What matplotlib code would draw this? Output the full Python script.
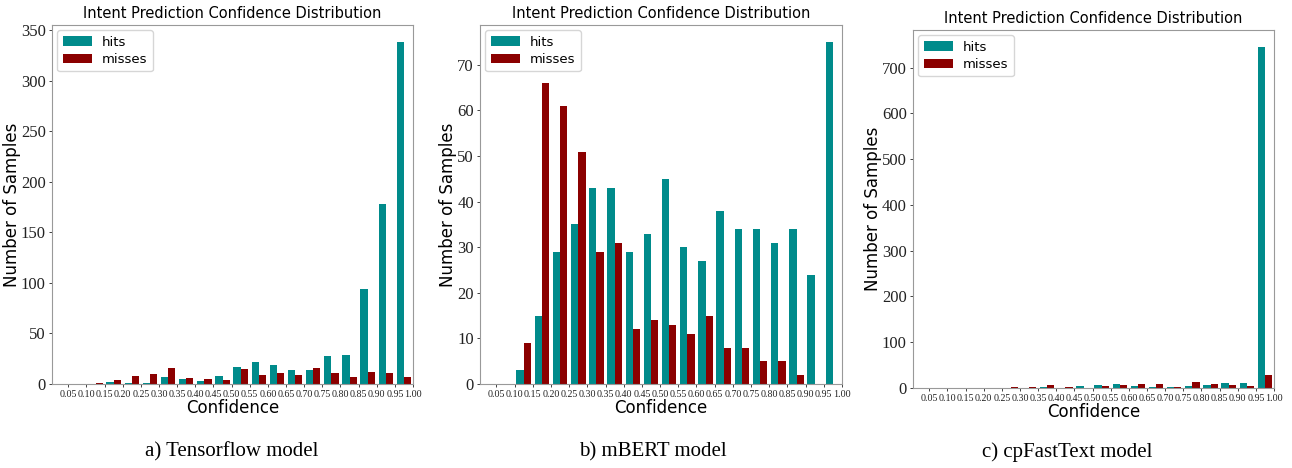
import numpy as np
import matplotlib
matplotlib.use('Agg')
import matplotlib.pyplot as plt

# bin edges of the confidence histogram (0.00 .. 1.00, step 0.05)
edges = np.linspace(0.0, 1.0, 21)
tick_labels = ['%.2f' % v for v in edges[1:]]

# counts per bin
tf_hits = [0, 0, 0, 2, 1, 1, 7, 5, 3, 8, 17, 22, 19, 14, 14, 28, 29, 94, 178, 338]
tf_misses = [0, 0, 1, 4, 8, 10, 16, 6, 5, 4, 15, 9, 11, 9, 16, 11, 7, 12, 11, 7]

bert_hits = [0, 0, 3, 15, 29, 35, 43, 43, 29, 33, 45, 30, 27, 38, 34, 34, 31, 34, 24, 75]
bert_misses = [0, 0, 9, 66, 61, 51, 29, 31, 12, 14, 13, 11, 15, 8, 8, 5, 5, 2, 0, 0]

ft_hits = [0, 0, 0, 0, 0, 1, 1, 2, 0, 4, 7, 9, 5, 3, 3, 5, 6, 12, 10, 745]
ft_misses = [0, 0, 0, 0, 1, 2, 3, 7, 2, 1, 4, 6, 9, 9, 3, 14, 9, 7, 5, 28]

captions = ['a) Tensorflow model', 'b) mBERT model', 'c) cpFastText model']
panels = [(tf_hits, tf_misses), (bert_hits, bert_misses), (ft_hits, ft_misses)]

# axes boxes in pixels: left, right, top, bottom
W, H = 1292, 468
boxes = [(52, 413, 25, 384), (480, 842, 25, 384), (913, 1274, 30, 388)]
cap_x = [232, 653, 1067]

fig = plt.figure(figsize=(W / 100, H / 100), dpi=100)
centers = (edges[:-1] + edges[1:]) / 2

for i, ((hits, misses), (l, r, t, b)) in enumerate(zip(panels, boxes)):
    ax = fig.add_axes([l / W, 1 - b / H, (r - l) / W, (b - t) / H])
    ax.hist([centers, centers], bins=edges, weights=[hits, misses],
            color=['darkcyan', 'darkred'], label=['hits', 'misses'])
    ax.set_xlim(0.005, 1.0)
    ax.set_xticks(edges[1:])
    ax.set_xticklabels(tick_labels, fontfamily='Liberation Serif', fontsize=7.2)
    for lab in ax.get_yticklabels():
        lab.set_fontfamily('Liberation Serif')
        lab.set_fontsize(12)
    ax.tick_params(axis='both', length=2.5, width=0.6, pad=2, colors='#222222')
    for s in ax.spines.values():
        s.set_color('#999999')
    ax.set_title('Intent Prediction Confidence Distribution', fontsize=10.5, pad=5)
    ax.set_xlabel('Confidence', fontsize=12, labelpad=0)
    ax.set_ylabel('Number of Samples', fontsize=12, labelpad=0)
    ax.legend(loc='upper left', fontsize=9.5, handlelength=2.2,
              labelspacing=0.35, borderaxespad=0.4)
    fig.text(cap_x[i] / W, 1 - 452 / H, captions[i], ha='center', va='center',
             fontfamily='Liberation Serif', fontsize=15)

fig.savefig('out.png', dpi=100)
